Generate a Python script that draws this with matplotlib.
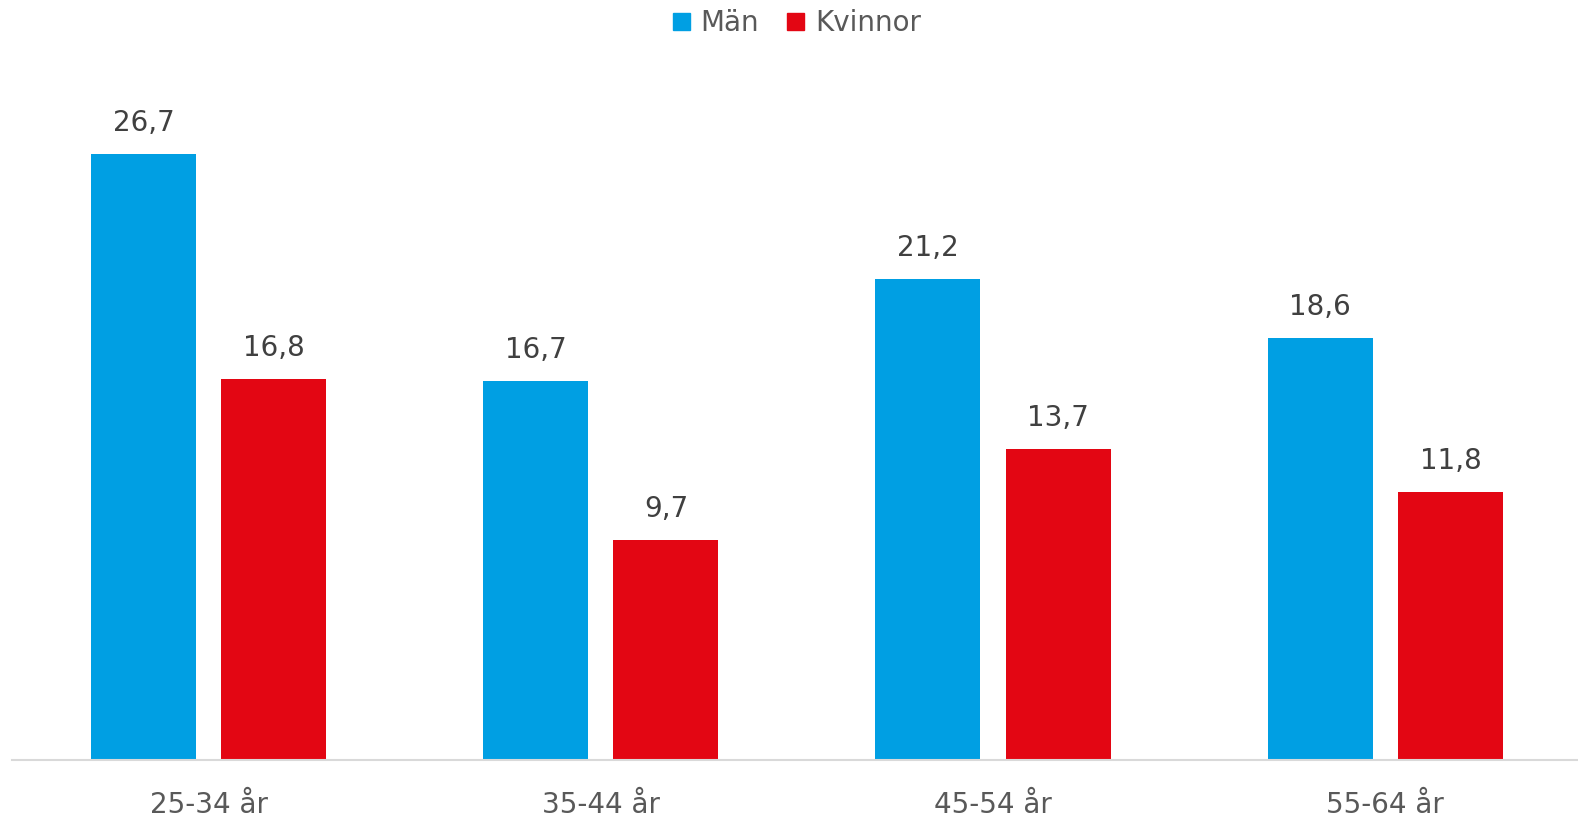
import numpy as np
import matplotlib.pyplot as plt
from matplotlib.patches import Patch

categories = ['25-34 år', '35-44 år', '45-54 år', '55-64 år']
man = [26.7, 16.7, 21.2, 18.6]
kvinnor = [16.8, 9.7, 13.7, 11.8]

blue = '#009FE3'
red = '#E30613'

fig = plt.figure(figsize=(15.78, 8.19), dpi=100)
ax = fig.add_axes([12.4 / 1578, 59 / 819, 1569 / 1578, 681 / 819])

x = np.arange(len(categories))
w = 0.268
off = 0.166
b1 = ax.bar(x - off, man, w, color=blue, label='Män')
b2 = ax.bar(x + off, kvinnor, w, color=red, label='Kvinnor')

for bars, vals in ((b1, man), (b2, kvinnor)):
    for r, v in zip(bars, vals):
        ax.annotate(f'{v:.1f}'.replace('.', ','),
                    (r.get_x() + r.get_width() / 2, v),
                    xytext=(0, 12), textcoords='offset points',
                    ha='center', va='bottom', fontsize=20, color='#404040')

ax.set_xlim(-0.5, 3.5)
ax.set_ylim(0, 30)
ax.set_xticks(x)
ax.set_xticklabels(categories, fontsize=20, color='#595959')
ax.tick_params(axis='x', length=0, pad=22)
ax.set_yticks([])
for s in ['top', 'right', 'left']:
    ax.spines[s].set_visible(False)
ax.spines['bottom'].set_color('#D9D9D9')
ax.spines['bottom'].set_linewidth(1.5)

handles = [Patch(color=blue, label='Män'), Patch(color=red, label='Kvinnor')]
fig.legend(handles=handles, loc='upper center', bbox_to_anchor=(0.505, 1.019),
           ncol=2, frameon=False, fontsize=20, labelcolor='#595959',
           handlelength=0.6, handleheight=0.6, handletextpad=0.4,
           columnspacing=1.0)

fig.savefig('out.png', dpi=100)
